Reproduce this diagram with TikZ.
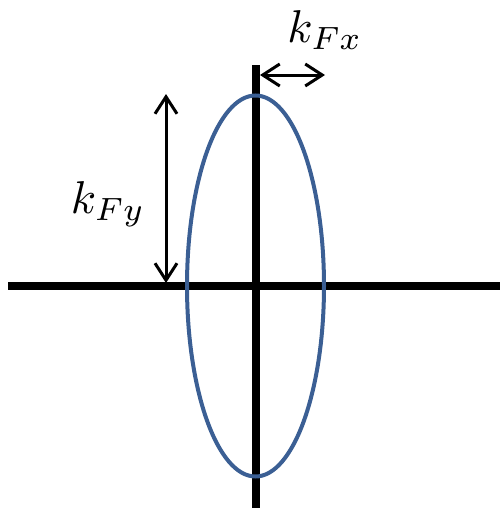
\documentclass[tikz,border=0pt]{standalone}
\usetikzlibrary{arrows.meta}
\definecolor{ellblue}{HTML}{3B5F94}
\begin{document}
\begin{tikzpicture}[x=1pt,y=-1pt,
  axis/.style={line width=7.5pt,black},
  ell/.style={line width=4pt,ellblue},
  dim/.style={line width=3pt,black,{Straight Barb[length=17pt,width=22pt]}-{Straight Barb[length=17pt,width=22pt]}},
  lbl/.style={inner sep=0pt,scale=4.6}]
\useasboundingbox (0,0) rectangle (500,509);
% axes
\coordinate (hl) at (8,286);
\coordinate (hr) at (500,286);
\coordinate (vt) at (256,65);
\coordinate (vb) at (256,508);
\draw[axis] (hl) -- (hr);
\draw[axis] (vt) -- (vb);
% ellipse
\draw[ell] (255.5,286) ellipse [x radius=68.5, y radius=190.5];
% dimension arrows
\coordinate (xa) at (260,75);
\coordinate (xb) at (325,75);
\draw[dim] (xa) -- (xb);
\coordinate (ya) at (166,94);
\coordinate (yb) at (166,283);
\draw[dim] (ya) -- (yb);
% labels
\node[lbl] (kfx) at (325,30) {$k_{Fx}$};
\node[lbl] (kfy) at (108,204) {$k_{Fy}$};
\end{tikzpicture}
\end{document}
